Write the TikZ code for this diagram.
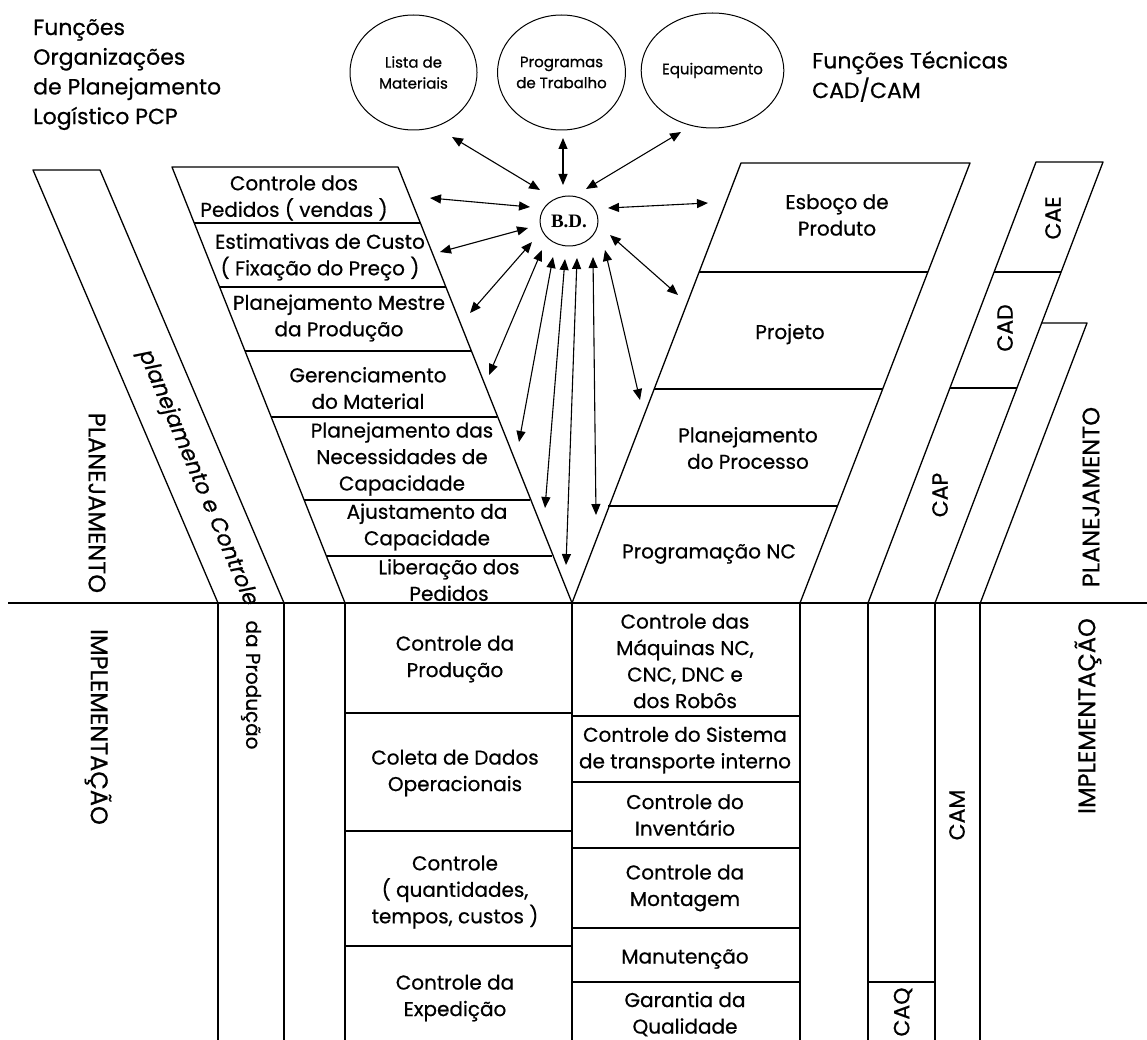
\documentclass[tikz,border=0pt]{standalone}
\usepackage{fontspec}
\setmainfont{Poppins}[FakeBold=0.6]
\newfontfamily\bdfont{Liberation Serif}
\newfontfamily\slantfont[FakeSlant=0.2,FakeBold=0.6]{Poppins}
\usetikzlibrary{arrows.meta,shapes.geometric}
\begin{document}
\begin{tikzpicture}[x=1pt,y=-1pt,
  ln/.style={line width=1.3pt, line join=round},
  boxtxt/.style={font=\fontsize{20}{26.5}\selectfont, align=center, inner sep=0pt},
  headtxt/.style={font=\fontsize{22}{29.7}\selectfont, align=left, inner sep=0pt},
  circ/.style={ellipse, draw, line width=1pt, minimum width=127pt, minimum height=115pt, inner sep=0pt, font=\fontsize{15}{21}\selectfont, align=center},
  bigtxt/.style={font=\fontsize{24}{28}\selectfont, inner sep=0pt},
  cax/.style={font=\fontsize{22}{26}\selectfont, inner sep=0pt},
  dbl/.style={line width=1.1pt, {Triangle[length=11pt,width=9pt]}-{Triangle[length=11pt,width=9pt]}}
]
\useasboundingbox (0,0) rectangle (1147,1040);
\fill[white] (0,0) rectangle (1147,1040);

% ---------- headings ----------
\node[headtxt, anchor=north west] (hleft) at (33,19) {Funções\\Organizações\\de Planejamento\\Logístico PCP};
\node[headtxt, anchor=north west] (hright) at (812,51) {Funções Técnicas\\CAD/CAM};

% ---------- circles ----------
\node[circ] (lista) at (413.5,72.5) {Lista de\\Materiais};
\node[circ] (prog) at (561.5,72.5) {Programas\\de Trabalho};
\node[circ] (equip) at (712.5,70.5) {Equipamento};
\node[draw, ellipse, line width=1pt, minimum width=58pt, minimum height=50pt, inner sep=0pt,
      font=\bdfont\bfseries\fontsize{19}{19}\selectfont] (bd) at (569,221) {B.D.};

% ---------- left bands ----------
\draw[ln] (33,170) -- (100,170) -- (284,603) -- (218,603) -- cycle;
\draw[ln] (172,167) -- (398,167) -- (572,603) -- (345,603) -- cycle;
\foreach \y in {223,287,351,417,500,556}
  \draw[ln] ({172+0.3968*(\y-167)},\y) -- ++(226,0);

% ---------- right bands ----------
\draw[ln] (741,163) -- (970,163) -- (800,603) -- (572,603) -- cycle;
\foreach \y in {272,389,506}
  \draw[ln] ({741-0.3864*(\y-163)},\y) -- ++(229,0);
\draw[ln] (1036,162) -- (1103,162) -- (935,603) -- (868,603) -- cycle;
\foreach \y in {272,388}
  \draw[ln] ({1036-0.381*(\y-162)},\y) -- ++(67,0);
\draw[ln] (1041.7,323) -- (1087,323) -- (980.3,603);

% ---------- horizontal divide ----------
\draw[ln] (8,603) -- (1147,603);

% ---------- lower columns ----------
\foreach \x in {218,284,345,572,800,868,935,980}
  \draw[ln] (\x,603) -- (\x,1040);
\foreach \y in {713,831,946}
  \draw[ln] (345,\y) -- (572,\y);
\foreach \y in {716,782,848,928,982}
  \draw[ln] (572,\y) -- (800,\y);
\draw[ln] (868,982) -- (935,982);

% ---------- texts in left band ----------
\node[boxtxt] (t1) at (294,198) {Controle dos\\Pedidos ( vendas )};
\node[boxtxt] (t2) at (320,257) {Estimativas de Custo\\( Fixação do Preço )};
\node[boxtxt] (t3) at (339,318) {Planejamento Mestre\\da Produção};
\node[boxtxt] (t4) at (368,388) {Gerenciamento\\do Material};
\node[boxtxt] (t5) at (402,459) {Planejamento das\\Necessidades de\\Capacidade};
\node[boxtxt] (t6) at (427,527) {Ajustamento da\\Capacidade};
\node[boxtxt] (t7) at (449,580) {Liberação dos\\Pedidos};

% ---------- texts in right band ----------
\node[boxtxt] (r1) at (837,215) {Esboço de\\Produto};
\node[boxtxt] (r2) at (790,334) {Projeto};
\node[boxtxt] (r3) at (748,448) {Planejamento\\do Processo};
\node[boxtxt] (r4) at (709,554) {Programação NC};

% ---------- lower texts ----------
\node[boxtxt] (b1) at (455,659) {Controle da\\Produção};
\node[boxtxt] (b2) at (455,773) {Coleta de Dados\\Operacionais};
\node[boxtxt] (b3) at (455,892) {Controle\\( quantidades,\\tempos, custos )};
\node[boxtxt] (b4) at (455,998) {Controle da\\Expedição};
\node[boxtxt] (c1) at (685,661) {Controle das\\Máquinas NC,\\CNC, DNC e\\dos Robôs};
\node[boxtxt] (c2) at (685,750) {Controle do Sistema\\de transporte interno};
\node[boxtxt] (c3) at (685,815) {Controle do\\Inventário};
\node[boxtxt] (c4) at (685,888) {Controle da\\Montagem};
\node[boxtxt] (c5) at (685,959) {Manutenção};
\node[boxtxt] (c6) at (685,1014) {Garantia da\\Qualidade};

% ---------- rotated labels ----------
\node[bigtxt, rotate=-90] (lplan) at (97,503) {PLANEJAMENTO};
\node[bigtxt, rotate=-90] (limpl) at (98,727) {IMPLEMENTAÇÃO};
\node[font=\slantfont\fontsize{22}{22}\selectfont, inner sep=0pt, rotate=-67.1] (pc) at (197,477) {planejamento e Controle};
\node[font=\fontsize{20}{20}\selectfont, inner sep=0pt, rotate=-90] (dap) at (251,685) {da Produção};
\node[bigtxt, rotate=90] (rplan) at (1091,497) {PLANEJAMENTO};
\node[bigtxt, rotate=90] (rimpl) at (1088,716) {IMPLEMENTAÇÃO};
\node[cax, rotate=90] (cae) at (1053,218) {CAE};
\node[cax, rotate=90] (cad) at (1005,328) {CAD};
\node[cax, rotate=90] (cap) at (940,495) {CAP};
\node[cax, rotate=90] (cam) at (957,815) {CAM};
\node[cax, rotate=90] (caq) at (903,1012) {CAQ};

% ---------- arrow end points ----------
\coordinate (a1) at (540,190);  \coordinate (e1) at (452,137);
\coordinate (a2) at (563,185);  \coordinate (e2) at (563,138);
\coordinate (a3) at (586,189);  \coordinate (e3) at (681,132);
\coordinate (a4) at (530,207);  \coordinate (e4) at (430,198);
\coordinate (a5) at (528,228);  \coordinate (e5) at (440,252);
\coordinate (a6) at (532,242);  \coordinate (e6) at (470,313);
\coordinate (a7) at (542,250);  \coordinate (e7) at (489,375);
\coordinate (a8) at (553,257);  \coordinate (e8) at (519,442);
\coordinate (a9) at (565,259);  \coordinate (e9) at (545,508);
\coordinate (a10) at (577,258); \coordinate (e10) at (566,565);
\coordinate (a11) at (593,257); \coordinate (e11) at (596,515);
\coordinate (a12) at (605,250); \coordinate (e12) at (640,400);
\coordinate (a13) at (610,235); \coordinate (e13) at (678,295);
\coordinate (a14) at (608,208); \coordinate (e14) at (708,203);
\foreach \i in {1,...,14}
  \draw[dbl] (a\i) -- (e\i);
\end{tikzpicture}
\end{document}
